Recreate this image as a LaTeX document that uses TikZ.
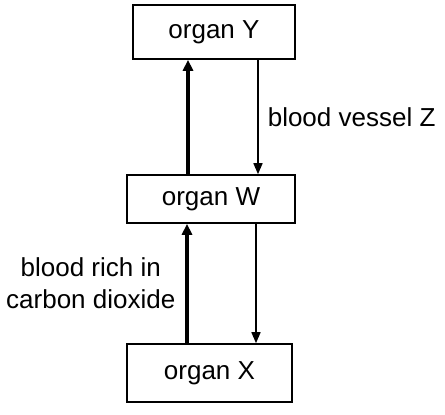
\documentclass[tikz,border=0pt]{standalone}
\usepackage{fontspec}
\setmainfont{Liberation Sans}
\usepackage{tikz}
\usetikzlibrary{
  arrows.meta,
  positioning
}
\tikzset{
  organ/.style = {
    rectangle, draw=black, line width=1.6pt,
    minimum width=#1, align=center,
    font=\fontsize{26}{30}\selectfont
  },
  organ/.default = 165pt,
  thickarr/.style = {-{Triangle[length=11pt, width=10pt]}, line width=3.4pt},
  thinarr/.style  = {-{Triangle[length=11pt, width=9pt]}, line width=1.6pt},
  lbl/.style = {font=\fontsize{26}{32}\selectfont, align=center, inner sep=0pt},
}

\begin{document}
\begin{tikzpicture}[x=1pt, y=-1pt]
  \useasboundingbox (0,0) rectangle (445,415);

  \node[organ=162pt, minimum height=54pt] (Y) at (214,32) {organ Y};
  \node[organ=168pt, minimum height=48pt] (W) at (211,199) {organ W};
  \node[organ=165pt, minimum height=58pt] (X) at (209.5,373) {organ X};

  % vertical lines of the vessels
  \coordinate (upper up) at (188,0);
  \coordinate (upper down) at (258,0);
  \coordinate (lower up) at (187,0);
  \coordinate (lower down) at (256,0);

  % Arrows
  \draw[thickarr] (W.north -| upper up) -- (Y.south -| upper up);
  \draw[thinarr] (Y.south -| upper down) --
    node[lbl, right=9pt] {blood vessel Z} (W.north -| upper down);
  \draw[thickarr] (X.north -| lower up) --
    node[lbl, left=10pt] {blood rich in\\carbon dioxide} (W.south -| lower up);
  \draw[thinarr] (W.south -| lower down) -- (X.north -| lower down);

\end{tikzpicture}
\end{document}
